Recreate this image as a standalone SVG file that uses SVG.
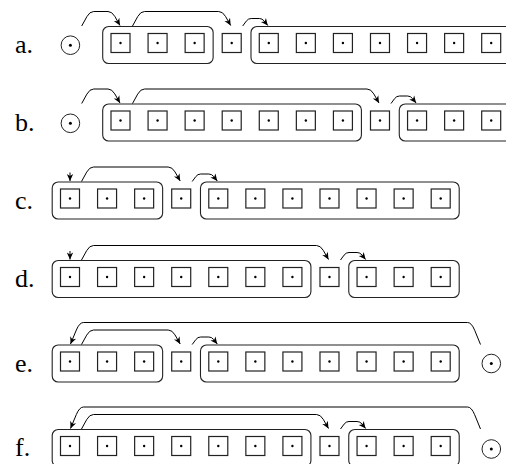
<svg xmlns="http://www.w3.org/2000/svg" width="506" height="464" viewBox="0 0 506 464">
<style>
.lbl{font-family:"Liberation Serif","Times New Roman",serif;font-size:26px;fill:#000}
.sq{fill:none;stroke:#222;stroke-width:1.2}
.dot{fill:#000}
.grp{fill:none;stroke:#222;stroke-width:1.1}
.ring{fill:none;stroke:#222;stroke-width:1}
.con{fill:none;stroke:#000;stroke-width:1;marker-end:url(#ah)}
</style>
<defs>
<marker id="ah" viewBox="-8 -4 9 8" refX="0" refY="0" markerWidth="9" markerHeight="8" orient="auto" markerUnits="userSpaceOnUse">
<path d="M0,0 L-7,-3.2 L-5,0 L-7,3.2 Z" fill="#000"/>
</marker>
<g id="s"><rect class="sq" x="-9.5" y="-9.5" width="19" height="19"/><circle class="dot" cx="0" cy="0" r="1.2"/></g>
<g id="o"><circle class="ring" cx="0" cy="0" r="9.3"/><circle class="dot" cx="0" cy="0" r="1.5"/></g>
</defs>

<!-- Row a -->
<g id="row-a" transform="translate(0,43)">
<text class="lbl" x="15" y="10">a.</text>
<use id="a-circle" href="#o" x="70.4" y="2.2"/>
<g id="a-group1"><rect class="grp" x="102.7" y="-16.5" width="110.44" height="37" rx="6"/>
<use href="#s" x="120.5"/><use href="#s" x="157.57"/><use href="#s" x="194.64"/></g>
<g id="a-single"><use href="#s" x="231.71"/></g>
<g id="a-group2"><rect class="grp" x="250.98" y="-16.5" width="270" height="37" rx="6"/>
<use href="#s" x="268.78"/><use href="#s" x="305.85"/><use href="#s" x="342.92"/><use href="#s" x="379.99"/><use href="#s" x="417.06"/><use href="#s" x="454.13"/><use href="#s" x="491.2"/></g>
</g>

<!-- Row b -->
<g id="row-b" transform="translate(0,120.5)">
<text class="lbl" x="15" y="10">b.</text>
<use id="b-circle" href="#o" x="70.4" y="2.8"/>
<g id="b-group1"><rect class="grp" x="102.7" y="-16.5" width="258.72" height="37" rx="6"/>
<use href="#s" x="120.5"/><use href="#s" x="157.57"/><use href="#s" x="194.64"/><use href="#s" x="231.71"/><use href="#s" x="268.78"/><use href="#s" x="305.85"/><use href="#s" x="342.92"/></g>
<g id="b-single"><use href="#s" x="379.99"/></g>
<g id="b-group2"><rect class="grp" x="399.26" y="-16.5" width="120" height="37" rx="6"/>
<use href="#s" x="417.06"/><use href="#s" x="454.13"/><use href="#s" x="491.2"/></g>
</g>

<!-- Row c -->
<g id="row-c" transform="translate(0,198.5)">
<text class="lbl" x="15" y="10">c.</text>
<g id="c-group1"><rect class="grp" x="52.2" y="-16.5" width="110.44" height="37" rx="6"/>
<use href="#s" x="70"/><use href="#s" x="107.07"/><use href="#s" x="144.14"/></g>
<g id="c-single"><use href="#s" x="181.21"/></g>
<g id="c-group2"><rect class="grp" x="200.48" y="-16.5" width="258.72" height="37" rx="6"/>
<use href="#s" x="218.28"/><use href="#s" x="255.35"/><use href="#s" x="292.42"/><use href="#s" x="329.49"/><use href="#s" x="366.56"/><use href="#s" x="403.63"/><use href="#s" x="440.7"/></g>
</g>

<!-- Row d -->
<g id="row-d" transform="translate(0,277)">
<text class="lbl" x="15" y="10">d.</text>
<g id="d-group1"><rect class="grp" x="52.2" y="-16.5" width="258.72" height="37" rx="6"/>
<use href="#s" x="70"/><use href="#s" x="107.07"/><use href="#s" x="144.14"/><use href="#s" x="181.21"/><use href="#s" x="218.28"/><use href="#s" x="255.35"/><use href="#s" x="292.42"/></g>
<g id="d-single"><use href="#s" x="329.49"/></g>
<g id="d-group2"><rect class="grp" x="348.76" y="-16.5" width="110.44" height="37" rx="6"/>
<use href="#s" x="366.56"/><use href="#s" x="403.63"/><use href="#s" x="440.7"/></g>
</g>

<!-- Row e -->
<g id="row-e" transform="translate(0,361.5)">
<text class="lbl" x="15" y="10">e.</text>
<g id="e-group1"><rect class="grp" x="52.2" y="-16.5" width="110.44" height="37" rx="6"/>
<use href="#s" x="70"/><use href="#s" x="107.07"/><use href="#s" x="144.14"/></g>
<g id="e-single"><use href="#s" x="181.21"/></g>
<g id="e-group2"><rect class="grp" x="200.48" y="-16.5" width="258.72" height="37" rx="6"/>
<use href="#s" x="218.28"/><use href="#s" x="255.35"/><use href="#s" x="292.42"/><use href="#s" x="329.49"/><use href="#s" x="366.56"/><use href="#s" x="403.63"/><use href="#s" x="440.7"/></g>
<use id="e-circle" href="#o" x="491.3" y="2"/>
</g>

<!-- Row f -->
<g id="row-f" transform="translate(0,446)">
<text class="lbl" x="15" y="10">f.</text>
<g id="f-group1"><rect class="grp" x="52.2" y="-16.5" width="258.72" height="37" rx="6"/>
<use href="#s" x="70"/><use href="#s" x="107.07"/><use href="#s" x="144.14"/><use href="#s" x="181.21"/><use href="#s" x="218.28"/><use href="#s" x="255.35"/><use href="#s" x="292.42"/></g>
<g id="f-single"><use href="#s" x="329.49"/></g>
<g id="f-group2"><rect class="grp" x="348.76" y="-16.5" width="110.44" height="37" rx="6"/>
<use href="#s" x="366.56"/><use href="#s" x="403.63"/><use href="#s" x="440.7"/></g>
<use id="f-circle" href="#o" x="491.3" y="3"/>
</g>

<!-- Connectors -->
<g id="connectors">
<g transform="translate(0,43)">
<path class="con" d="M81.7,-17 L86.9,-26.4 Q89.7,-31.5 93.7,-31.5 H108 Q112,-31.5 114.8,-26.6 L120,-17.5"/>
<path class="con" d="M132.5,-17 L137.7,-26.4 Q140.5,-31.5 144.5,-31.5 H218.7 Q222.7,-31.5 225.5,-26.6 L230.7,-17.5"/>
<path class="con" d="M242.7,-17 L246.3,-21.9 Q248.2,-24.5 251.2,-24.5 H259.3 Q262.3,-24.5 264.2,-22 L267.8,-17.5"/>
</g>
<g transform="translate(0,120.5)">
<path class="con" d="M81.7,-17 L86.9,-26.4 Q89.7,-31.5 93.7,-31.5 H108 Q112,-31.5 114.8,-26.6 L120,-17.5"/>
<path class="con" d="M132.5,-17 L137.7,-26.4 Q140.5,-31.5 144.5,-31.5 H367 Q371,-31.5 373.8,-26.6 L379,-17.5"/>
<path class="con" d="M391,-17 L394.6,-21.9 Q396.5,-24.5 399.5,-24.5 H407.6 Q410.6,-24.5 412.5,-22 L416.1,-17.5"/>
</g>
<g transform="translate(0,198.5)">
<path class="con" d="M70,-26 L70,-17.5"/>
<path class="con" d="M81.5,-17 L86.7,-26.4 Q89.5,-31.5 93.5,-31.5 H168.2 Q172.2,-31.5 175,-26.6 L180.2,-17.5"/>
<path class="con" d="M192.2,-17 L195.8,-21.9 Q197.7,-24.5 200.7,-24.5 H208.8 Q211.8,-24.5 213.7,-22 L217.3,-17.5"/>
</g>
<g transform="translate(0,277)">
<path class="con" d="M70,-26 L70,-17.5"/>
<path class="con" d="M81.5,-17 L86.7,-26.4 Q89.5,-31.5 93.5,-31.5 H316.5 Q320.5,-31.5 323.3,-26.6 L328.5,-17.5"/>
<path class="con" d="M340.5,-17 L344.1,-21.9 Q346,-24.5 349,-24.5 H357.1 Q360.1,-24.5 362,-22 L365.6,-17.5"/>
</g>
<g transform="translate(0,361.5)">
<path class="con" d="M480.5,-17 L474.65,-31.3 Q471.5,-39 467.5,-39 H83.5 Q79.5,-39 76.35,-31.5 L70.5,-17.5"/>
<path class="con" d="M81.5,-17 L86.7,-26.4 Q89.5,-31.5 93.5,-31.5 H168.2 Q172.2,-31.5 175,-26.6 L180.2,-17.5"/>
<path class="con" d="M192.2,-17 L195.8,-21.9 Q197.7,-24.5 200.7,-24.5 H208.8 Q211.8,-24.5 213.7,-22 L217.3,-17.5"/>
</g>
<g transform="translate(0,446)">
<path class="con" d="M480.5,-17 L474.65,-31.3 Q471.5,-39 467.5,-39 H83.5 Q79.5,-39 76.35,-31.5 L70.5,-17.5"/>
<path class="con" d="M81.5,-17 L86.7,-26.4 Q89.5,-31.5 93.5,-31.5 H316.5 Q320.5,-31.5 323.3,-26.6 L328.5,-17.5"/>
<path class="con" d="M340.5,-17 L344.1,-21.9 Q346,-24.5 349,-24.5 H357.1 Q360.1,-24.5 362,-22 L365.6,-17.5"/>
</g>
</g>
</svg>
